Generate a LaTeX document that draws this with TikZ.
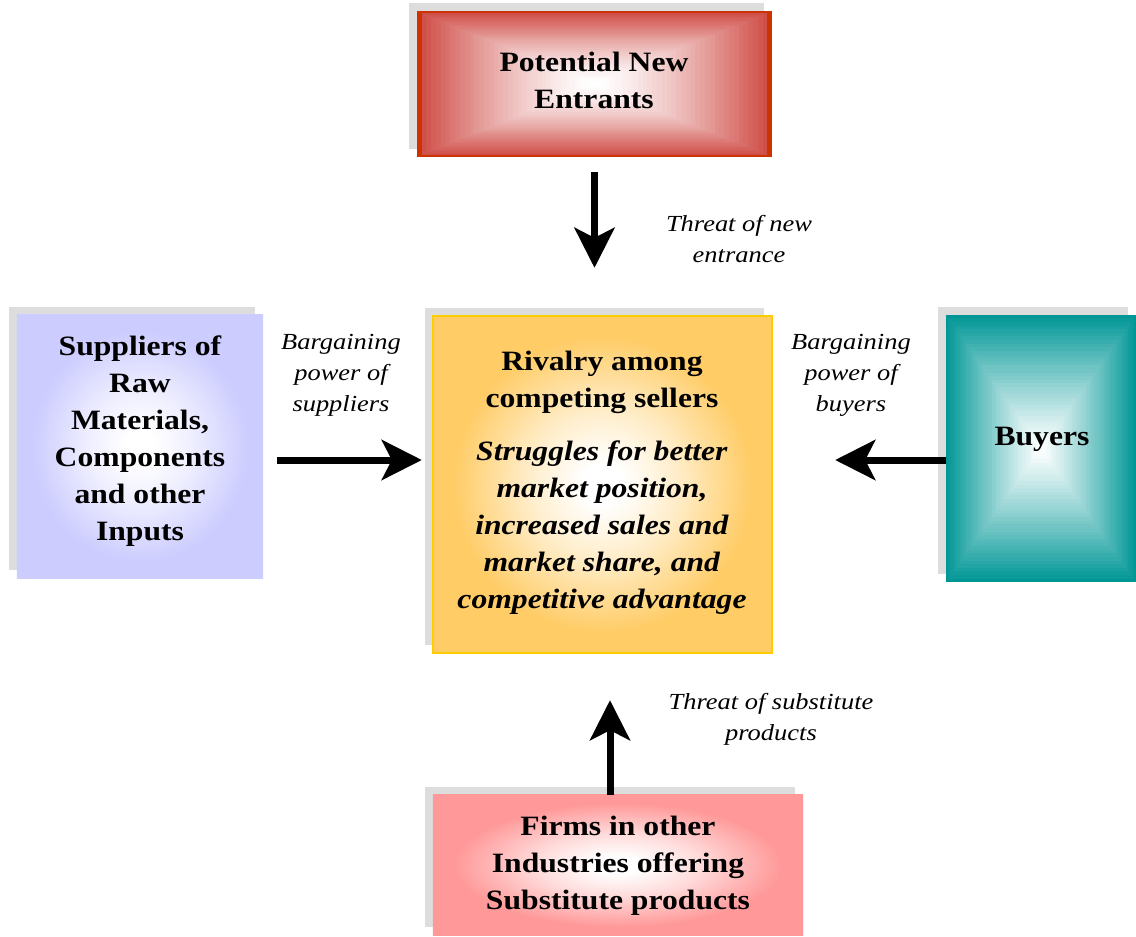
\documentclass[tikz,border=0pt]{standalone}
\usepackage{fontspec}
\setmainfont[FakeStretch=1.13]{Liberation Serif}
\newfontfamily\labfont[FakeStretch=1.15]{Liberation Serif}
\usetikzlibrary{arrows.meta,calc}

\definecolor{shadowgray}{RGB}{221,221,221}
\definecolor{redA}{RGB}{204,51,0}
\definecolor{redB}{RGB}{206,72,66}
\definecolor{tealA}{RGB}{0,150,150}
\definecolor{blueE}{RGB}{204,204,255}
\definecolor{yelE}{RGB}{255,204,102}
\definecolor{yelB}{RGB}{255,204,0}
\definecolor{pinkE}{RGB}{255,153,153}
\colorlet{blueM}{blueE!35!white}
\colorlet{yelM}{yelE!35!white}
\colorlet{pinkM}{pinkE!35!white}

\pgfdeclareradialshading{bluerad}{\pgfpoint{0bp}{0bp}}{color(0bp)=(white); color(3bp)=(white); color(11bp)=(blueM); color(22bp)=(blueE); color(50bp)=(blueE)}
\pgfdeclareradialshading{yelrad}{\pgfpoint{0bp}{0bp}}{color(0bp)=(white); color(3bp)=(white); color(11bp)=(yelM); color(22bp)=(yelE); color(50bp)=(yelE)}
\pgfdeclareradialshading{pinkrad}{\pgfpoint{0bp}{0bp}}{color(0bp)=(white); color(3bp)=(white); color(11bp)=(pinkM); color(22bp)=(pinkE); color(50bp)=(pinkE)}

\newcommand\shadowrect[1]{\fill[shadowgray] ([shift={(-8,-8)}]#1.south west) rectangle ([shift={(-8,-8)}]#1.north east);}
\newcommand\bandrect[4]{% node, edge colour, mix colour, exponent
  \fill[#2] (#1.south west) rectangle (#1.north east);
  \foreach \i in {1,...,36}{
    \pgfmathsetmacro\tt{1-\i/37}
    \pgfmathtruncatemacro\pp{100*(\tt^#4)}
    \fill[#3!\pp!white] ($(#1.center)!\tt!(#1.south west)$) rectangle ($(#1.center)!\tt!(#1.north east)$);
  }}

\tikzset{
  box/.style={draw=none, inner sep=0pt},
  boxtext/.style={align=center, inner sep=0pt, font=\fontsize{28}{37}\selectfont\bfseries},
  lab/.style={align=center, inner sep=0pt, font={\labfont\fontsize{23}{31}\selectfont\itshape}},
  bigarrow/.style={line width=7pt, line cap=butt, -{Stealth[length=40pt, width=40pt, inset=10pt]}}
}

\begin{document}
\begin{tikzpicture}[x=1pt, y=-1pt]
\useasboundingbox (0,0) rectangle (1136,937);
\fill[white] (0,0) rectangle (1136,937);

% box frames
\node[box, minimum width=355pt, minimum height=146pt] (pne) at (594.5,84) {};
\node[box, minimum width=246pt, minimum height=263pt] (sup) at (140,446.5) {};
\node[box, minimum width=339pt, minimum height=337pt] (riv) at (602.5,484.5) {};
\node[box, minimum width=190pt, minimum height=267pt] (buy) at (1041,448.5) {};
\node[box, minimum width=370pt, minimum height=140pt] (sub) at (618,865) {};

% shadows
\shadowrect{pne}
\shadowrect{sup}
\shadowrect{riv}
\shadowrect{buy}
\shadowrect{sub}

% fills
\bandrect{pne}{redA}{redB}{1.4}
\bandrect{buy}{tealA}{tealA}{1.15}
\shade[shading=bluerad] (sup.south west) rectangle (sup.north east);
\shade[shading=yelrad] (riv.south west) rectangle (riv.north east);
\draw[yelB, line width=1.5pt] (riv.south west) rectangle (riv.north east);
\shade[shading=pinkrad] (sub.south west) rectangle (sub.north east);

% box texts
\node[boxtext] (pnet) at (594,80) {Potential New\\Entrants};
\node[boxtext] (supt) at (140,441) {Suppliers of\\Raw\\Materials,\\Components\\and other\\Inputs};
\node[boxtext] (rivt) at (602,483) {Rivalry among\\competing sellers\\[16pt]
  \textit{Struggles for better}\\\textit{market position,}\\\textit{increased sales and}\\\textit{market share, and}\\\textit{competitive advantage}};
\node[boxtext] (buyt) at (1042,439) {Buyers};
\node[boxtext] (subt) at (618,866) {Firms in other\\Industries offering\\Substitute products};

% labels
\node[lab] (l1) at (739,239) {Threat of new\\entrance};
\node[lab] (l2) at (341,375) {Bargaining\\power of\\suppliers};
\node[lab] (l3) at (851,375) {Bargaining\\power of\\buyers};
\node[lab] (l4) at (771,719) {Threat of substitute\\products};

% arrows
\coordinate (hy) at (0,460);
\coordinate (ux) at (610,0);
\draw[bigarrow, shorten <=15pt, shorten >=48pt] (pne.south) -- (pne.south |- riv.north);
\draw[bigarrow, shorten <=14pt, shorten >=11pt] (sup.east |- hy) -- (riv.west |- hy);
\draw[bigarrow, shorten >=63pt] (buy.west |- hy) -- (riv.east |- hy);
\draw[bigarrow, shorten >=47pt] (ux |- sub.north) -- (ux |- riv.south);
\end{tikzpicture}
\end{document}
